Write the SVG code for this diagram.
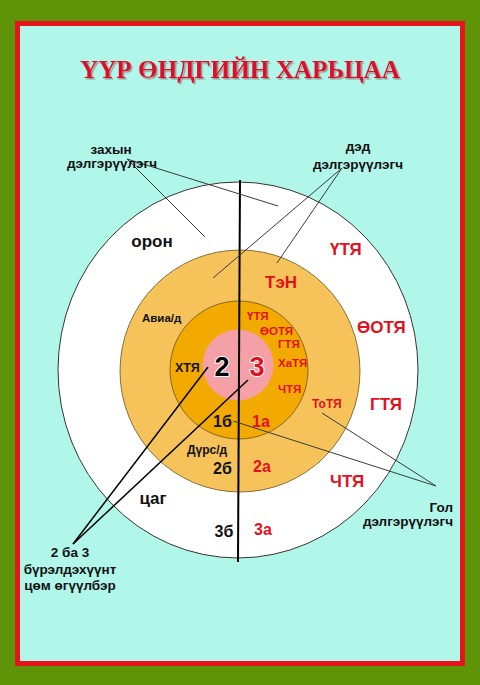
<svg xmlns="http://www.w3.org/2000/svg" width="480" height="685" viewBox="0 0 480 685">
<defs>
<filter id="sh" x="-5%" y="-20%" width="110%" height="150%">
<feDropShadow dx="1.5" dy="1.5" stdDeviation="0.6" flood-color="#9a8a8a" flood-opacity="0.9"/>
</filter>
</defs>
<style>
text{font-family:"Liberation Sans",Arial,sans-serif;font-weight:bold}
.k{fill:#111}
.r{fill:#e3101e}
.lbl{font-size:13.5px;fill:#111}
.big{font-size:17px}
.sm{font-size:11.5px}
.md{font-size:16px}
.ld{stroke:#3a3a3a;stroke-width:1;fill:none}
.lk{stroke:#000;stroke-width:1.5;fill:none}
</style>
<rect x="0" y="0" width="480" height="685" fill="#5f9409"/>
<rect x="17.5" y="23.5" width="445" height="640" fill="#b0f7ea" stroke="#e8141c" stroke-width="5"/>
<text id="title" x="240" y="78" text-anchor="middle" font-family="'Liberation Serif','Times New Roman',serif" font-size="26" textLength="320" lengthAdjust="spacingAndGlyphs" fill="#e0102a" filter="url(#sh)" style="font-family:'Liberation Serif','Times New Roman',serif">ҮҮР ӨНДГИЙН ХАРЬЦАА</text>
<g id="outer"><ellipse cx="238" cy="370" rx="180" ry="188" fill="#fff" stroke="#333" stroke-width="1"/></g>
<g id="middle"><ellipse cx="240" cy="371" rx="120" ry="121" fill="#f5c35a" stroke="#6b5220" stroke-width="0.8"/></g>
<g id="inner"><circle cx="239" cy="370" r="69" fill="#f2a900" stroke="#6b5220" stroke-width="0.8"/></g>
<g id="core"><circle cx="238" cy="365" r="35.5" fill="#f4a0a6"/></g>
<g id="connectors">
<line x1="240" y1="180" x2="238" y2="562" stroke="#000" stroke-width="2"/>
<line class="ld" x1="127" y1="159" x2="205" y2="237"/>
<line class="ld" x1="127" y1="159" x2="278" y2="206" stroke="#666"/>
<line class="ld" x1="342" y1="168" x2="213" y2="278"/>
<line class="ld" x1="342" y1="168" x2="277" y2="263"/>
<line class="ld" x1="436" y1="486" x2="322" y2="413"/>
<line class="ld" x1="436" y1="486" x2="233" y2="421"/>
<line class="lk" x1="73" y1="544" x2="208" y2="367"/>
<line class="lk" x1="73" y1="544" x2="248" y2="380"/>
</g>
<g id="label-outer-ext">
<text class="lbl" x="111" y="154" text-anchor="middle">захын</text>
<text class="lbl" x="112" y="168" text-anchor="middle">дэлгэрүүлэгч</text>
</g>
<g id="label-sub-ext">
<text class="lbl" x="358" y="151" text-anchor="middle">дэд</text>
<text class="lbl" x="358" y="169" text-anchor="middle">дэлгэрүүлэгч</text>
</g>
<g id="label-main-ext">
<text class="lbl" x="453" y="512" text-anchor="end">Гол</text>
<text class="lbl" x="453" y="526" text-anchor="end">дэлгэрүүлэгч</text>
</g>
<g id="label-core">
<text class="lbl" x="70" y="557" text-anchor="middle">2 ба 3</text>
<text class="lbl" x="70" y="574" text-anchor="middle">бүрэлдэхүүнт</text>
<text class="lbl" x="70" y="590" text-anchor="middle">цөм өгүүлбэр</text>
</g>
<g id="ring-outer-text">
<text class="k big" x="152" y="247" text-anchor="middle">орон</text>
<text class="k big" x="153" y="504" text-anchor="middle">цаг</text>
<text class="k md" x="224" y="537" text-anchor="middle">3б</text>
<text class="r md" x="263" y="535" text-anchor="middle">3а</text>
<text class="r big" x="330" y="255">ҮТЯ</text>
<text class="r big" x="357" y="333">ӨОТЯ</text>
<text class="r big" x="370" y="410">ГТЯ</text>
<text class="r big" x="330" y="487">ЧТЯ</text>
</g>
<g id="ring-middle-text">
<text class="r big" x="265" y="288">ТэН</text>
<text class="k sm" x="142" y="322">Авиа/д</text>
<text class="r" x="312" y="408" font-size="12">ТоТЯ</text>
<text class="k" x="187" y="454" font-size="12">Дүрс/д</text>
<text class="k md" x="213" y="474">2б</text>
<text class="r md" x="253" y="472">2а</text>
</g>
<g id="ring-inner-text">
<text class="r sm" x="247" y="320">ҮТЯ</text>
<text class="r sm" x="260" y="335">ӨОТЯ</text>
<text class="r sm" x="278" y="348">ГТЯ</text>
<text class="r sm" x="278" y="367">ХаТЯ</text>
<text class="r sm" x="278" y="393">ЧТЯ</text>
<text class="k" x="175" y="372" font-size="12.5">ХТЯ</text>
<text class="k md" x="213" y="427">1б</text>
<text class="r md" x="252" y="427">1а</text>
</g>
<g id="core-text">
<text x="222" y="376" text-anchor="middle" font-size="27" fill="#000" stroke="#fff" stroke-width="2" paint-order="stroke">2</text>
<text x="257" y="376" text-anchor="middle" font-size="27" fill="#e3101e" stroke="#fff" stroke-width="2" paint-order="stroke">3</text>
</g>
</svg>
